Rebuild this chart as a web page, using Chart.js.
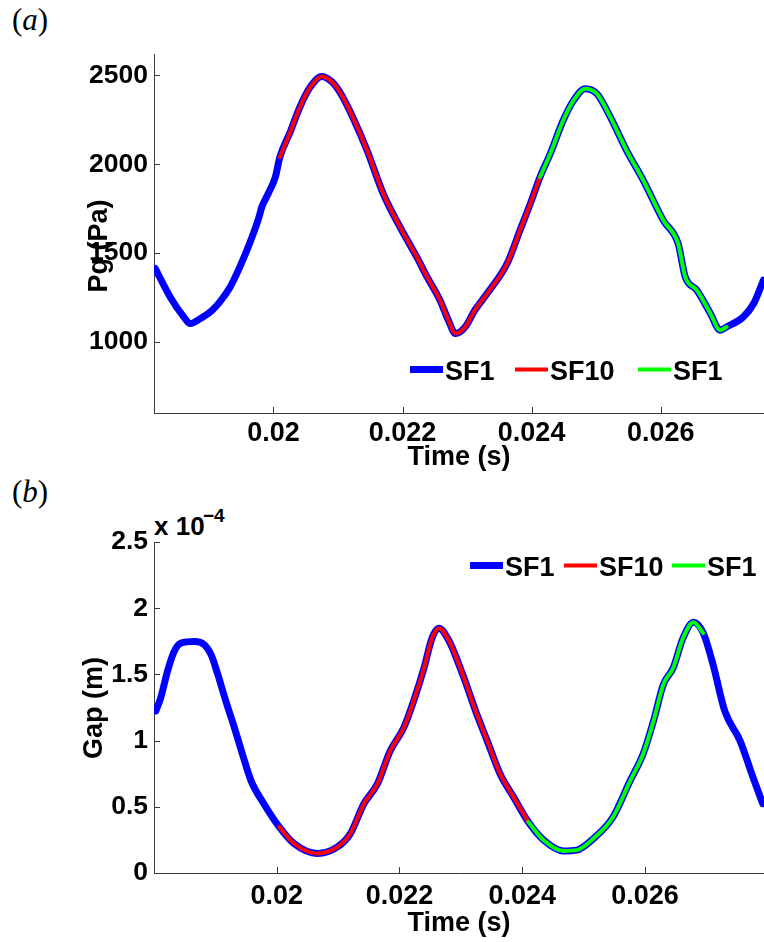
<!DOCTYPE html>
<html>
<head>
<meta charset="utf-8">
<script src="https://cdn.jsdelivr.net/npm/chart.js@4/dist/chart.umd.min.js"></script>
<style>
  html, body { margin: 0; padding: 0; background: #fff; }
  body { width: 764px; height: 942px; position: relative; overflow: hidden; }
  canvas { position: absolute; left: 0; }
  #chart_a { top: 0; }
  #chart_b { top: 480px; }
  .panel { position: absolute; font: 31px "Liberation Serif", "DejaVu Serif", serif; line-height: 31px; }
  .panel i { font-style: italic; }
  .mult { position: absolute; font: bold 26px "Liberation Sans", Arial, sans-serif; line-height: 26px; }
  .mult-exp { position: absolute; font: bold 19px "Liberation Sans", Arial, sans-serif; line-height: 19px; }
</style>
</head>
<body>
<div class="panel" style="left:12px; top:4px;">(<i>a</i>)</div>
<div class="panel" style="left:12px; top:476px;">(<i>b</i>)</div>
<div class="mult" style="left:154px; top:513px;">x 10</div>
<div class="mult-exp" style="left:203px; top:506px;">&minus;4</div>
<canvas id="chart_a" width="764" height="480"></canvas>
<canvas id="chart_b" width="764" height="462"></canvas>
<script>
// panel (a): glottal pressure Pg (Pa) vs time (s)
const pgTime = [0.01817, 0.01840, 0.01861, 0.01871, 0.01887, 0.01905, 0.01917, 0.01933, 0.01948, 0.01964,
  0.01977, 0.01982, 0.01992, 0.02003, 0.02010, 0.02026, 0.02041, 0.02057, 0.02075, 0.02091,
  0.02106, 0.02124, 0.02145, 0.02170, 0.02196, 0.02222, 0.02238, 0.02258, 0.02271, 0.02282,
  0.02297, 0.02312, 0.02331, 0.02362, 0.02382, 0.02398, 0.02413, 0.02429, 0.02449, 0.02465,
  0.02483, 0.02501, 0.02522, 0.02547, 0.02573, 0.02604, 0.02627, 0.02638, 0.02656, 0.02677,
  0.02692, 0.02702, 0.02728, 0.02744, 0.02759];
const pgValue = [1413, 1253, 1141, 1103, 1132, 1178, 1225, 1309, 1422, 1562,
  1694, 1759, 1835, 1928, 2040, 2181, 2322, 2434, 2494, 2462,
  2387, 2256, 2078, 1835, 1647, 1478, 1366, 1235, 1122, 1047,
  1084, 1178, 1272, 1441, 1628, 1778, 1928, 2060, 2247, 2359,
  2425, 2397, 2265, 2078, 1909, 1684, 1553, 1366, 1291, 1160,
  1066, 1084, 1141, 1216, 1347];
const pgSF10Range = [0.02010, 0.02413];
const pgSF1bRange = [0.02413, 0.02702];

// panel (b): gap (x 1e-4 m) vs time (s)
const gapTime = [0.01803, 0.01811, 0.01822, 0.01833, 0.01844, 0.01866, 0.01882, 0.01893, 0.01904, 0.01917,
  0.01931, 0.01944, 0.01958, 0.01979, 0.02004, 0.02028, 0.02066, 0.02099, 0.02120, 0.02142,
  0.02164, 0.02185, 0.02207, 0.02223, 0.02240, 0.02253, 0.02264, 0.02280, 0.02305, 0.02324,
  0.02343, 0.02364, 0.02386, 0.02410, 0.02435, 0.02467, 0.02489, 0.02516, 0.02548, 0.02576,
  0.02597, 0.02614, 0.02630, 0.02646, 0.02662, 0.02679, 0.02695, 0.02711, 0.02730, 0.02755,
  0.02776, 0.02792];
const gapValue = [1.224, 1.324, 1.524, 1.674, 1.737, 1.749, 1.724, 1.649, 1.499, 1.299,
  1.098, 0.899, 0.698, 0.523, 0.348, 0.223, 0.148, 0.197, 0.298, 0.523,
  0.673, 0.923, 1.098, 1.299, 1.549, 1.774, 1.849, 1.760, 1.474, 1.224,
  0.998, 0.748, 0.573, 0.385, 0.248, 0.167, 0.173, 0.260, 0.423, 0.698,
  0.899, 1.149, 1.424, 1.549, 1.774, 1.894, 1.812, 1.574, 1.224, 0.998,
  0.723, 0.523];
const gapSF10Range = [0.02004, 0.02410];
const gapSF1bRange = [0.02410, 0.02695];

const seriesNames = ["SF1", "SF10", "SF1"];
const seriesColors = ["#0000FF", "#FF0000", "#00FF00"];
const timeTicks = [0.02, 0.022, 0.024, 0.026];
const pgTicks = [1000, 1500, 2000, 2500];
const gapTicks = [0, 0.5, 1, 1.5, 2, 2.5];

const FONT = '"Liberation Sans", Arial, Helvetica, sans-serif';
const AXIS_COLOR = "#3a3a3a";

function toPoints(t, v, range) {
  const pts = [];
  for (let i = 0; i < t.length; i++) {
    if (!range || (t[i] >= range[0] - 1e-9 && t[i] <= range[1] + 1e-9)) {
      pts.push({ x: t[i], y: v[i] });
    }
  }
  return pts;
}

function makeDatasets(t, v, r1, r2) {
  const base = {
    showLine: true,
    pointRadius: 0,
    pointHoverRadius: 0,
    cubicInterpolationMode: "monotone",
    borderCapStyle: "round",
    borderJoinStyle: "round",
    fill: false,
  };
  return [
    Object.assign({}, base, { label: seriesNames[0], data: toPoints(t, v), borderColor: seriesColors[0], borderWidth: 7, order: 3 }),
    Object.assign({}, base, { label: seriesNames[1], data: toPoints(t, v, r1), borderColor: seriesColors[1], borderWidth: 4, order: 2 }),
    Object.assign({}, base, { label: seriesNames[2], data: toPoints(t, v, r2), borderColor: seriesColors[2], borderWidth: 4, order: 1 }),
  ];
}

// ticks pointing into the axes, like the original
const inwardTicks = {
  id: "inwardTicks",
  afterDraw(chart) {
    const { ctx, chartArea, scales } = chart;
    ctx.save();
    ctx.strokeStyle = AXIS_COLOR;
    ctx.lineWidth = 1;
    ctx.beginPath();
    scales.x.ticks.forEach(function (t) {
      const px = Math.round(scales.x.getPixelForValue(t.value)) + 0.5;
      ctx.moveTo(px, chartArea.bottom);
      ctx.lineTo(px, chartArea.bottom - 6);
    });
    scales.y.ticks.forEach(function (t) {
      const py = Math.round(scales.y.getPixelForValue(t.value)) + 0.5;
      ctx.moveTo(chartArea.left, py);
      ctx.lineTo(chartArea.left + 6, py);
    });
    ctx.stroke();
    ctx.restore();
  },
};

// rotated y label placed where the original has it
const yLabel = {
  id: "yLabel",
  afterDraw(chart, args, opts) {
    const ctx = chart.ctx;
    ctx.save();
    ctx.translate(opts.cx, opts.cy);
    ctx.rotate(-Math.PI / 2);
    ctx.font = "bold 27px " + FONT;
    ctx.fillStyle = "#000";
    ctx.textAlign = "center";
    ctx.textBaseline = "middle";
    ctx.fillText(opts.text, 0, 0);
    ctx.restore();
  },
};

// horizontal legend drawn inside the axes
const lineLegend = {
  id: "lineLegend",
  afterDraw(chart, args, opts) {
    const ctx = chart.ctx;
    ctx.save();
    ctx.font = "bold 27px " + FONT;
    ctx.textBaseline = "alphabetic";
    ctx.textAlign = "left";
    chart.data.datasets.forEach(function (ds, i) {
      const x = opts.xs[i];
      ctx.strokeStyle = ds.borderColor;
      ctx.lineWidth = ds.borderWidth;
      ctx.lineCap = "butt";
      ctx.beginPath();
      ctx.moveTo(x, opts.y);
      ctx.lineTo(x + 33, opts.y);
      ctx.stroke();
      ctx.fillStyle = "#000";
      ctx.fillText(ds.label, x + 35, opts.y + 10);
    });
    ctx.restore();
  },
};

function makeOptions(cfg) {
  return {
    responsive: false,
    animation: false,
    devicePixelRatio: 1,
    layout: { padding: { left: 0, right: 0, top: cfg.top, bottom: 0 } },
    plugins: {
      legend: { display: false },
      tooltip: { enabled: false },
      lineLegend: { xs: cfg.legendXs, y: cfg.legendY },
      yLabel: { text: cfg.yTitle, cx: cfg.yTitleX, cy: cfg.yTitleY },
    },
    scales: {
      x: {
        type: "linear",
        min: cfg.xMin,
        max: cfg.xMax,
        afterFit: function (scale) { scale.height = cfg.xHeight; },
        afterBuildTicks: function (scale) { scale.ticks = timeTicks.map(function (v) { return { value: v }; }); },
        grid: { display: false, drawTicks: false },
        border: { display: true, color: AXIS_COLOR, width: 1 },
        ticks: {
          color: "#000",
          padding: cfg.xTickPad,
          maxRotation: 0,
          font: { family: FONT, size: 27, weight: "bold" },
          callback: function (v) { return String(+v.toFixed(4)); },
        },
        title: {
          display: true,
          text: "Time (s)",
          color: "#000",
          font: { family: FONT, size: 27, weight: "bold" },
          padding: { top: 0, bottom: cfg.xTitlePad },
        },
      },
      y: {
        type: "linear",
        min: cfg.yMin,
        max: cfg.yMax,
        afterFit: function (scale) { scale.width = 154; },
        afterBuildTicks: function (scale) { scale.ticks = cfg.yTicks.map(function (v) { return { value: v }; }); },
        grid: { display: false, drawTicks: false },
        border: { display: true, color: AXIS_COLOR, width: 1 },
        ticks: {
          color: "#000",
          padding: 6,
          font: { family: FONT, size: 26.5, weight: "bold" },
          callback: function (v) { return String(+v.toFixed(4)); },
        },
      },
    },
  };
}

const chartA = new Chart(document.getElementById("chart_a").getContext("2d"), {
  type: "scatter",
  data: { datasets: makeDatasets(pgTime, pgValue, pgSF10Range, pgSF1bRange) },
  options: makeOptions({
    top: 54, xMin: 0.01815, xMax: 0.0276, yMin: 600, yMax: 2620, yTicks: pgTicks,
    xHeight: 67, xTickPad: 4, xTitlePad: 6, yTitle: "Pg (Pa)", yTitleX: 100, yTitleY: 246,
    legendXs: [410, 515, 638], legendY: 369.5,
  }),
  plugins: [inwardTicks, yLabel, lineLegend],
});

const chartB = new Chart(document.getElementById("chart_b").getContext("2d"), {
  type: "scatter",
  data: { datasets: makeDatasets(gapTime, gapValue, gapSF10Range, gapSF1bRange) },
  options: makeOptions({
    top: 62, xMin: 0.018, xMax: 0.02794, yMin: 0, yMax: 2.5, yTicks: gapTicks,
    xHeight: 69, xTickPad: 7, xTitlePad: 2, yTitle: "Gap (m)", yTitleX: 95, yTitleY: 228,
    legendXs: [470, 564, 672], legendY: 85.5,
  }),
  plugins: [inwardTicks, yLabel, lineLegend],
});
</script>
</body>
</html>
